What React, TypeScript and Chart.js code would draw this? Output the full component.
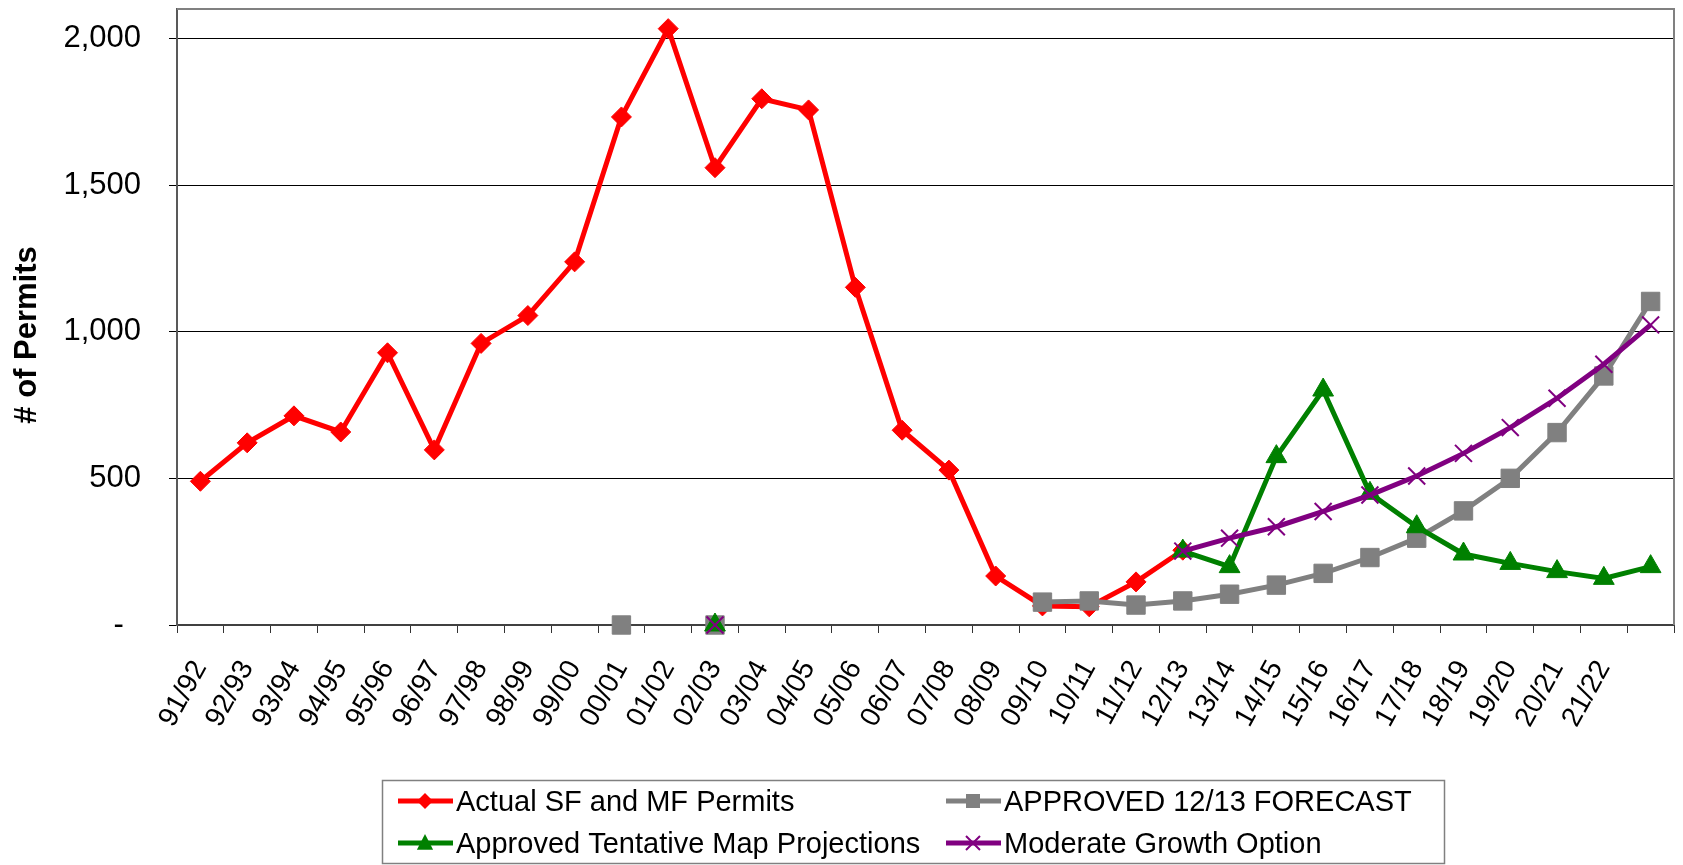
import React, { useEffect, useRef } from 'react';
import { Chart, registerables } from 'chart.js';

Chart.register(...registerables);

const categories = [
  '91/92', '92/93', '93/94', '94/95', '95/96', '96/97', '97/98', '98/99', '99/00', '00/01',
  '01/02', '02/03', '03/04', '04/05', '05/06', '06/07', '07/08', '08/09', '09/10', '10/11',
  '11/12', '12/13', '13/14', '14/15', '15/16', '16/17', '17/18', '18/19', '19/20', '20/21',
  '21/22', '',
];

const actualPermits = [
  490, 621, 713, 658, 928, 597, 960, 1055, 1238, 1732,
  2033, 1559, 1794, 1756, 1151, 664, 528, 167, 65, 62,
  147, 255, null, null, null, null, null, null, null, null,
  null, null,
];

const approvedForecast = [
  null, null, null, null, null, null, null, null, null, 0,
  null, 0, null, null, null, null, null, null, 78, 82,
  68, 82, 105, 136, 176, 230, 296, 389, 500, 656,
  849, 1103,
];

const tentativeMap = [
  null, null, null, null, null, null, null, null, null, null,
  null, 0, null, null, null, null, null, null, null, null,
  null, 252, 199, 574, 801, 449, 335, 242, 210, 182,
  159, 199,
];

const moderateGrowth = [
  null, null, null, null, null, null, null, null, null, null,
  null, 0, null, null, null, null, null, null, null, null,
  null, 252, 296, 335, 387, 443, 508, 585, 673, 773,
  889, 1023,
];

const yTickValues = [0, 500, 1000, 1500, 2000];

const seriesNames = [
  'Actual SF and MF Permits',
  'APPROVED 12/13 FORECAST',
  'Approved Tentative Map Projections',
  'Moderate Growth Option',
];

const FONT = '"Liberation Sans", Arial, sans-serif';

type Marker = 'diamond' | 'square' | 'triangle' | 'cross';

function drawMarker(ctx: CanvasRenderingContext2D, kind: Marker, x: number, y: number, r: number, color: string) {
  ctx.save();
  ctx.fillStyle = color;
  ctx.strokeStyle = color;
  ctx.beginPath();
  if (kind === 'diamond') {
    ctx.moveTo(x, y - r);
    ctx.lineTo(x + r, y);
    ctx.lineTo(x, y + r);
    ctx.lineTo(x - r, y);
    ctx.closePath();
    ctx.fill();
  } else if (kind === 'square') {
    ctx.rect(x - r, y - r, 2 * r, 2 * r);
    ctx.fill();
  } else if (kind === 'triangle') {
    ctx.moveTo(x, y - r);
    ctx.lineTo(x + r * 0.9, y + r * 0.75);
    ctx.lineTo(x - r * 0.9, y + r * 0.75);
    ctx.closePath();
    ctx.fill();
  } else {
    ctx.lineWidth = 2;
    ctx.moveTo(x - r, y - r);
    ctx.lineTo(x + r, y + r);
    ctx.moveTo(x + r, y - r);
    ctx.lineTo(x - r, y + r);
    ctx.stroke();
  }
  ctx.restore();
}

const legendItems: { name: string; color: string; marker: Marker; x: number; y: number; r: number }[] = [
  { name: seriesNames[0], color: '#FF0000', marker: 'diamond', x: 398, y: 801, r: 8 },
  { name: seriesNames[1], color: '#808080', marker: 'square', x: 946, y: 801, r: 7 },
  { name: seriesNames[2], color: '#008000', marker: 'triangle', x: 398, y: 843, r: 9 },
  { name: seriesNames[3], color: '#800080', marker: 'cross', x: 946, y: 843, r: 7 },
];

const decorPlugin = {
  id: 'decor',
  beforeDatasetsDraw(chart: any) {
    const { ctx, chartArea } = chart;
    ctx.save();
    ctx.strokeStyle = '#808080';
    ctx.lineWidth = 2;
    ctx.beginPath();
    ctx.moveTo(chartArea.left, chartArea.top);
    ctx.lineTo(chartArea.right, chartArea.top);
    ctx.lineTo(chartArea.right, chartArea.bottom);
    ctx.stroke();
    ctx.restore();
  },
  afterDraw(chart: any) {
    const ctx: CanvasRenderingContext2D = chart.ctx;
    ctx.save();
    // y-axis title
    ctx.translate(27, 335);
    ctx.rotate(-Math.PI / 2);
    ctx.font = `bold 31px ${FONT}`;
    ctx.fillStyle = '#000';
    ctx.textAlign = 'center';
    ctx.textBaseline = 'middle';
    ctx.fillText('# of Permits', 0, 0);
    ctx.restore();

    // legend
    ctx.save();
    ctx.strokeStyle = '#808080';
    ctx.lineWidth = 1.5;
    ctx.strokeRect(382.5, 780.5, 1062, 83);
    ctx.font = `29px ${FONT}`;
    ctx.textAlign = 'left';
    ctx.textBaseline = 'alphabetic';
    for (const it of legendItems) {
      ctx.strokeStyle = it.color;
      ctx.lineWidth = 5;
      ctx.beginPath();
      ctx.moveTo(it.x, it.y);
      ctx.lineTo(it.x + 55, it.y);
      ctx.stroke();
      drawMarker(ctx, it.marker, it.x + 27, it.y, it.r, it.color);
      ctx.fillStyle = '#000';
      ctx.fillText(it.name, it.x + 58, it.y + 10);
    }
    ctx.restore();
  },
};

export default function App() {
  const canvasRef = useRef<HTMLCanvasElement | null>(null);

  useEffect(() => {
    document.body.style.margin = '0';
    const canvas = canvasRef.current;
    if (!canvas) return;
    const common = { borderWidth: 5, spanGaps: false, clip: false as const, pointBorderWidth: 1 };
    const chart = new Chart(canvas, {
      type: 'line',
      data: {
        labels: categories,
        datasets: [
          {
            ...common,
            label: seriesNames[0],
            data: actualPermits,
            borderColor: '#FF0000',
            backgroundColor: '#FF0000',
            pointBackgroundColor: '#FF0000',
            pointBorderColor: '#FF0000',
            pointStyle: 'rectRot',
            pointRadius: 10,
            order: 4,
          },
          {
            ...common,
            label: seriesNames[1],
            data: approvedForecast,
            borderColor: '#808080',
            backgroundColor: '#808080',
            pointBackgroundColor: '#808080',
            pointBorderColor: '#808080',
            pointStyle: 'rect',
            pointRadius: 13,
            order: 3,
          },
          {
            ...common,
            label: seriesNames[2],
            data: tentativeMap,
            borderColor: '#008000',
            backgroundColor: '#008000',
            pointBackgroundColor: '#008000',
            pointBorderColor: '#008000',
            pointStyle: 'triangle',
            pointRadius: 12,
            order: 2,
          },
          {
            ...common,
            label: seriesNames[3],
            data: moderateGrowth,
            borderColor: '#800080',
            backgroundColor: '#800080',
            pointBackgroundColor: '#800080',
            pointBorderColor: '#800080',
            pointStyle: 'crossRot',
            pointRadius: 12,
            pointBorderWidth: 2,
            order: 1,
          },
        ],
      },
      options: {
        responsive: false,
        animation: false,
        events: [],
        layout: { autoPadding: false, padding: { top: 9, right: 9, left: 0, bottom: 0 } },
        plugins: {
          legend: { display: false },
          tooltip: { enabled: false },
          title: { display: false },
        },
        scales: {
          x: {
            type: 'category',
            offset: true,
            grid: {
              offset: true,
              drawOnChartArea: false,
              drawTicks: true,
              tickLength: 8,
              color: '#333333',
              lineWidth: 1,
            },
            border: { display: true, color: '#404040', width: 2 },
            ticks: {
              autoSkip: false,
              maxRotation: 61,
              minRotation: 61,
              padding: 22,
              labelOffset: 0,
              color: '#000',
              font: { family: FONT, size: 28 },
            },
            afterFit: (scale: any) => {
              scale.height = 240;
              scale.paddingLeft = 0;
              scale.paddingRight = 0;
            },
          },
          y: {
            type: 'linear',
            min: 0,
            max: 2100,
            grid: {
              color: '#000000',
              lineWidth: 1,
              drawTicks: true,
              tickLength: 8,
            },
            border: { display: true, color: '#595959', width: 2 },
            afterBuildTicks: (scale: any) => {
              scale.ticks = yTickValues.map((v) => ({ value: v }));
            },
            ticks: {
              padding: 28,
              color: '#000',
              font: { family: FONT, size: 31 },
              callback: (v: any) => (Number(v) === 0 ? '-  ' : Number(v).toLocaleString('en-US')),
            },
            afterFit: (scale: any) => {
              scale.width = 177;
              scale.paddingTop = 0;
              scale.paddingBottom = 0;
            },
          },
        },
      },
      plugins: [decorPlugin],
    });
    return () => chart.destroy();
  }, []);

  return (
    <div style={{ position: 'fixed', left: 0, top: 0, width: 1683, height: 865, background: '#fff' }}>
      <canvas ref={canvasRef} width={1683} height={865} style={{ display: 'block', width: 1683, height: 865 }} />
    </div>
  );
}
